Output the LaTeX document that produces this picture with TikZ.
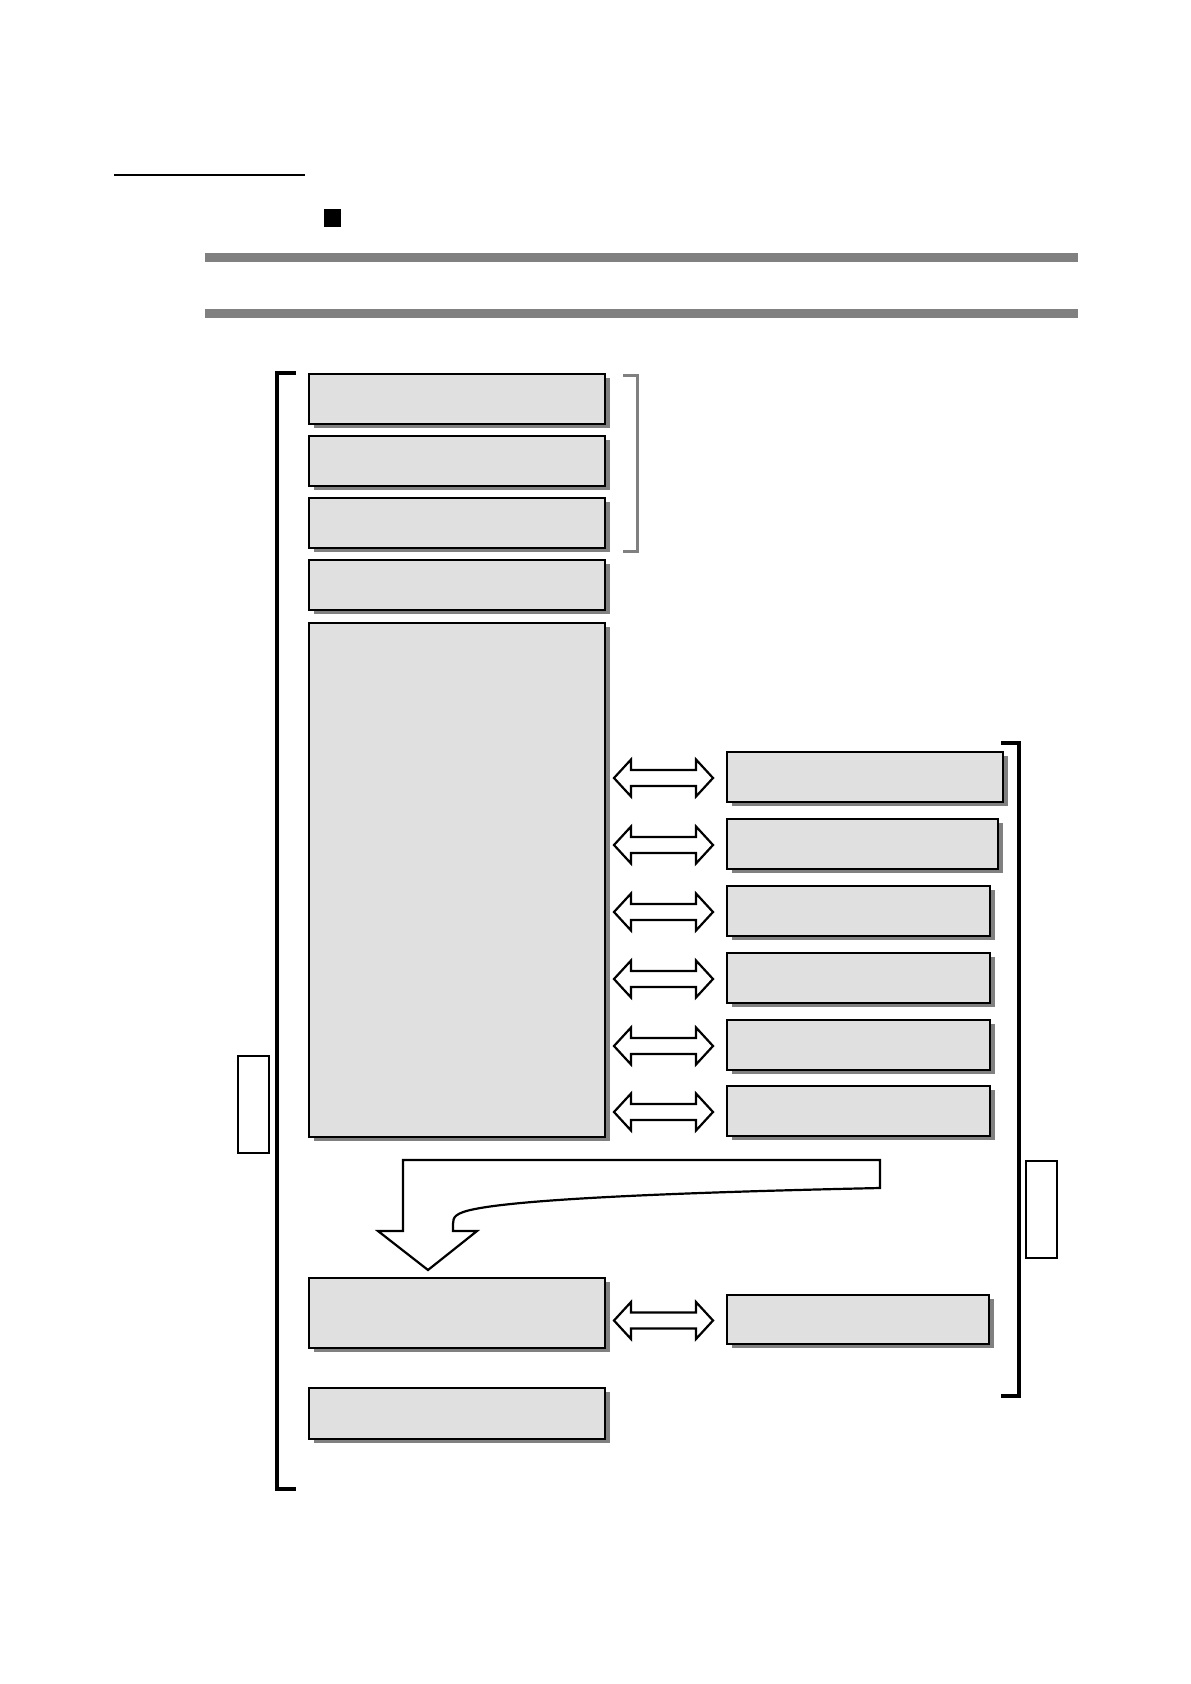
\documentclass[tikz,border=0pt]{standalone}
\usetikzlibrary{positioning,shadows,calc}
\definecolor{boxfill}{RGB}{224,224,224}
\definecolor{barcolor}{RGB}{128,128,128}
\tikzset{
  box/.style={draw, line width=1.4pt, fill=boxfill, inner sep=0pt, outer sep=0pt,
    minimum height=25pt,
    drop shadow={shadow xshift=2.5pt, shadow yshift=-2pt, fill=barcolor, opacity=1}},
  tagbox/.style={draw, line width=1.4pt, fill=white, inner sep=0pt, outer sep=0pt,
    minimum width=15.5pt, minimum height=48.5pt, anchor=north west},
  blockarrow/.style={draw, line width=1.1pt, fill=white, line join=miter},
  bracket/.style={line width=2pt, line cap=butt},
}
\begin{document}
\begin{tikzpicture}[x=0.5pt, y=-0.5pt]
  \useasboundingbox (0,0) rectangle (1190,1684);

  % page header
  \draw[line width=1.1pt] (114,175) -- (305,175);
  \fill (324,209) rectangle (341,227);
  \fill[barcolor] (205,253) rectangle (1078,262);
  \fill[barcolor] (205,309) rectangle (1078,318);

  % left column
  \node[box, minimum width=148pt, anchor=north west] (t1) at (309,374) {};
  \node[box, minimum width=148pt, below=6pt of t1] (t2) {};
  \node[box, minimum width=148pt, below=6pt of t2] (t3) {};
  \node[box, minimum width=148pt, below=6pt of t3] (t4) {};
  \node[box, minimum width=148pt, minimum height=257pt, below=6.5pt of t4] (main) {};
  \node[box, minimum width=148pt, minimum height=35pt, below=70.5pt of main] (b1) {};
  \node[box, minimum width=148pt, minimum height=25.5pt, below=20pt of b1] (b2) {};

  % right column
  \node[box, minimum width=138pt, anchor=north west] (r1) at (727,752) {};
  \node[box, minimum width=135.5pt, below=8.5pt of r1.south west, anchor=north west] (r2) {};
  \node[box, minimum width=131.5pt, below=8.5pt of r2.south west, anchor=north west] (r3) {};
  \node[box, minimum width=131.5pt, below=8.5pt of r3.south west, anchor=north west] (r4) {};
  \node[box, minimum width=131.5pt, below=8.5pt of r4.south west, anchor=north west] (r5) {};
  \node[box, minimum width=131.5pt, below=8pt of r5.south west, anchor=north west] (r6) {};
  \node[box, minimum width=131pt, minimum height=24.5pt, anchor=north west] (rb) at (727,1295) {};

  % side tags
  \node[tagbox] (tagl) at (238,1056) {};
  \node[tagbox] (tagr) at (1026,1161) {};

  % brackets
  \draw[bracket] (296,373) -- (277,373) -- (277,1489) -- (296,1489);
  \draw[bracket, barcolor, line width=1.5pt] (623,376) -- (637,376) -- (637,551) -- (623,551);
  \draw[bracket, line width=1.8pt] (1001,743) -- (1019,743) -- (1019,1396) -- (1001,1396);

  % double arrows
  \foreach \l/\r in {main/r1, main/r2, main/r3, main/r4, main/r5, main/r6, b1/rb}
    \draw[blockarrow] ($(\l.east |- \r.west)+(9,1)$) -- ++(17,-18.5) -- ++(0,10.5)
      -- ++(65,0) -- ++(0,-10.5) -- ++(17,18.5) -- ++(-17,18.5) -- ++(0,-10.5)
      -- ++(-65,0) -- ++(0,10.5) -- cycle;

  % bent arrow
  \draw[blockarrow] (403,1160) -- (880,1160) -- (880,1188)
    .. controls (650,1193) and (520,1200) .. (475,1209)
    .. controls (455,1213) and (453,1217) .. (453,1224)
    -- (453,1231) -- (477,1231) -- (428,1270) -- (378,1231) -- (403,1231) -- cycle;
\end{tikzpicture}
\end{document}
